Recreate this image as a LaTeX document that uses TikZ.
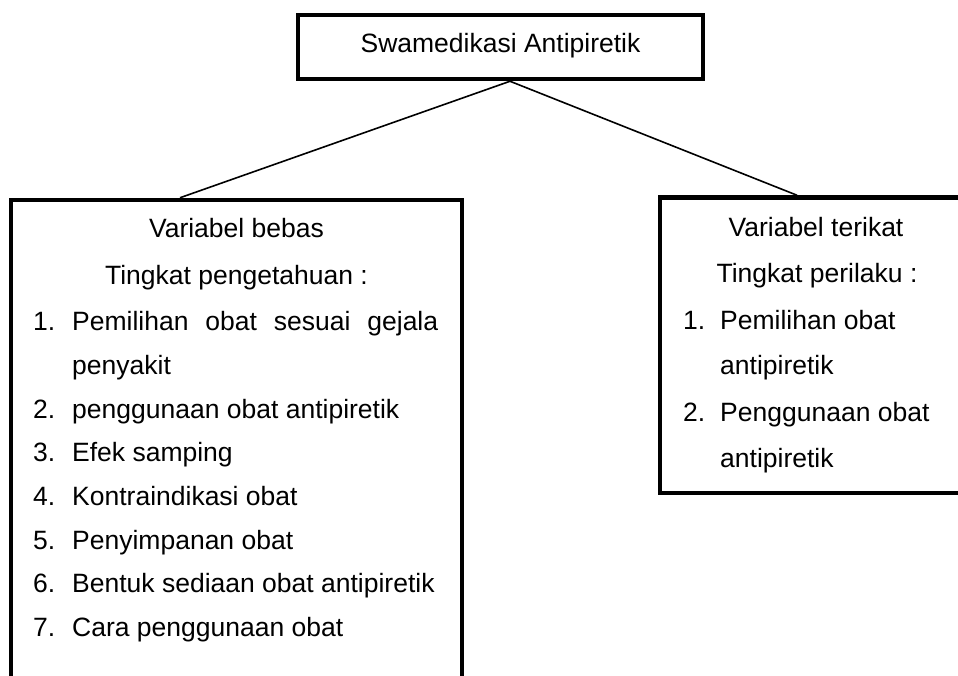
\documentclass[tikz,border=0pt]{standalone}
\usepackage{fontspec}
\setmainfont{Liberation Sans}
\begin{document}
\begin{tikzpicture}[x=1pt,y=-1pt,
  every node/.style={font=\fontsize{26.5}{30}\selectfont},
  frame/.style={draw,line width=4.5pt,inner sep=0pt},
  conn/.style={line width=1.6pt},
  ctr/.style={inner sep=0pt,anchor=base},
  txt/.style={inner sep=0pt,anchor=base west}]
\useasboundingbox (0,0) rectangle (958,675);
\clip (0,0) rectangle (958,675);
% boxes
\node[frame,minimum width=405pt,minimum height=64pt] (top) at (500.5,47) {};
\node[frame,minimum width=451pt,minimum height=540pt] (left) at (236.5,470) {};
\node[frame,minimum width=312pt,minimum height=295.5pt] (right) at (816,345.25) {};
% connectors
\draw[conn] ([xshift=9.5pt]top.south) -- ([xshift=-56.5pt]left.north);
\draw[conn] ([xshift=9.5pt]top.south) -- ([xshift=-19pt]right.north);
% top text
\node[ctr] (ttl) at (500.5,52) {Swamedikasi Antipiretik};
% left box text
\node[ctr] (l0) at (236.5,237.5) {Variabel bebas};
\node[ctr] (l1) at (236.5,284) {Tingkat pengetahuan :};
\node[txt] (n1) at (33,330.5) {1.};
\node[txt] (t1) at (72,330.5) {\hbox to 366pt{Pemilihan\hfill obat\hfill sesuai\hfill gejala}};
\node[txt] (t1b) at (72,374.2) {penyakit};
\node[txt] (n2) at (33,418) {2.};
\node[txt] (t2) at (72,418) {penggunaan obat antipiretik};
\node[txt] (n3) at (33,461.7) {3.};
\node[txt] (t3) at (72,461.7) {Efek samping};
\node[txt] (n4) at (33,505.4) {4.};
\node[txt] (t4) at (72,505.4) {Kontraindikasi obat};
\node[txt] (n5) at (33,549.1) {5.};
\node[txt] (t5) at (72,549.1) {Penyimpanan obat};
\node[txt] (n6) at (33,592.8) {6.};
\node[txt] (t6) at (72,592.8) {Bentuk sediaan obat antipiretik};
\node[txt] (n7) at (33,636.5) {7.};
\node[txt] (t7) at (72,636.5) {Cara penggunaan obat};
% right box text
\node[ctr] (r0) at (816,236.5) {Variabel terikat};
\node[ctr] (r1) at (817,282) {Tingkat perilaku :};
\node[txt] (rn1) at (683,329) {1.};
\node[txt] (rt1) at (720,329) {Pemilihan obat};
\node[txt] (rt1b) at (720,374) {antipiretik};
\node[txt] (rn2) at (683,421) {2.};
\node[txt] (rt2) at (720,421) {Penggunaan obat};
\node[txt] (rt2b) at (720,467) {antipiretik};
\end{tikzpicture}
\end{document}
